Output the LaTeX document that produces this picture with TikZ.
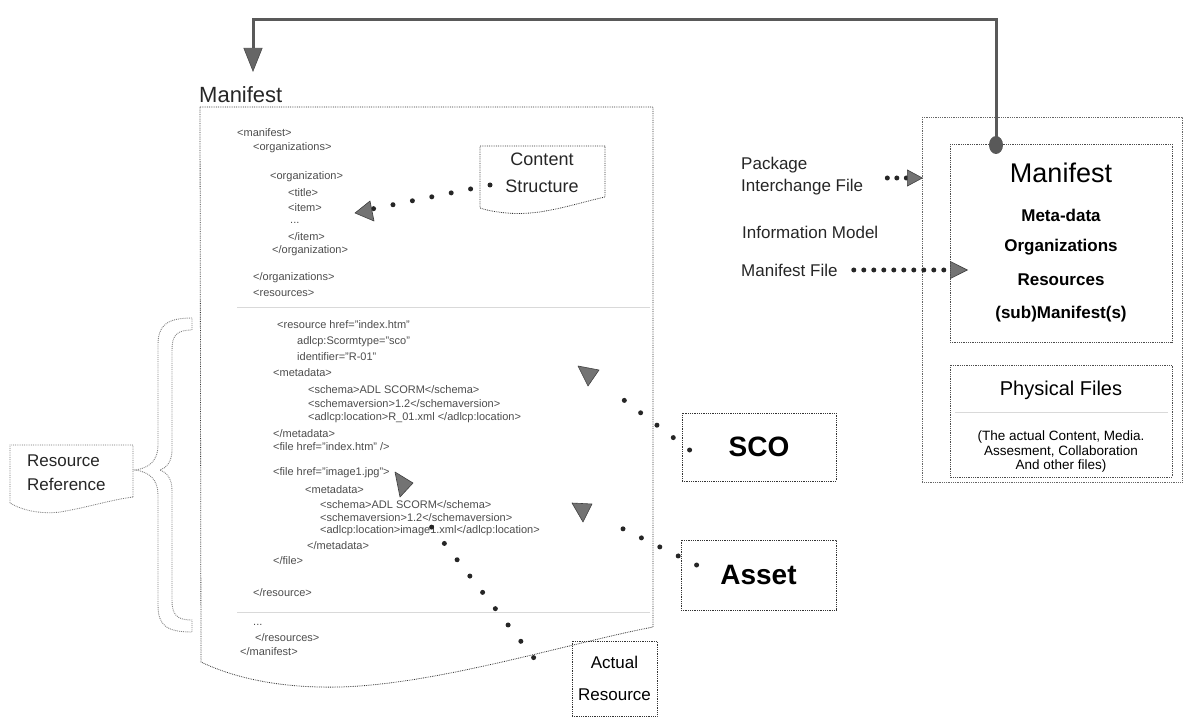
\documentclass[tikz,border=0pt]{standalone}
\usepackage{fontspec}
\setmainfont{Liberation Sans}
\usetikzlibrary{arrows.meta,calc}
\tikzset{
 code/.style={anchor=west, inner sep=0pt, font=\fontsize{11}{12}\selectfont, text=black!70},
 lbl/.style={inner sep=0pt, font=\fontsize{17}{20}\selectfont, text=black!85},
 bdr/.style={line width=0.8pt, densely dotted, draw=black!80},
 dotcon/.style={line width=5pt, line cap=round, dash pattern=on 0pt off 20.5pt, draw=black!85},
 tipfill/.style={fill=black!55, draw=black!75, line width=0.6pt, line join=round},
 brc/.style={line width=0.9pt, densely dotted, draw=black!50},
 faint/.style={line width=0.6pt, draw=black!15},
}
\begin{document}
\begin{tikzpicture}[x=1pt,y=-1pt]
\useasboundingbox (0,0) rectangle (1191,727);

% ---------- left manifest document ----------
\node[lbl, anchor=west, font=\fontsize{22}{24}\selectfont] (mtitle) at (199,95) {Manifest};
\draw[bdr] (200,107) -- (653,107) -- (653,627)
  .. controls (560,645) and (420,690) .. (320,687)
  .. controls (270,686) and (230,676) .. (201,662) -- cycle;
\draw[faint] (237,307) -- (650,307);
\draw[faint] (237,612) -- (650,612);

\node[code] (c1) at (237,133) {<manifest>};
\node[code] (c2) at (253,148) {<organizations>};
\node[code] (c3) at (270,177) {<organization>};
\node[code] (c4) at (288,193) {<title>};
\node[code] (c5) at (288,208) {<item>};
\node[code] (c6) at (290,223) {...};
\node[code] (c7) at (288,237) {</item>};
\node[code] (c8) at (272,251) {</organization>};
\node[code] (c9) at (253,278) {</organizations>};
\node[code] (c10) at (253,293) {<resources>};
\node[code] (c11) at (277,325) {<resource href="index.htm"};
\node[code] (c12) at (297,342) {adlcp:Scormtype="sco"};
\node[code] (c13) at (297,357) {identifier="R-01"};
\node[code] (c14) at (273,373) {<metadata>};
\node[code] (c15) at (308,390) {<schema>ADL SCORM</schema>};
\node[code] (c16) at (308,404) {<schemaversion>1.2</schemaversion>};
\node[code] (c17) at (308,418) {<adlcp:location>R\_01.xml </adlcp:location>};
\node[code] (c18) at (273,434) {</metadata>};
\node[code] (c19) at (273,447) {<file href="index.htm" />};
\node[code] (c20) at (273,473) {<file href="image1.jpg">};
\node[code] (c21) at (305,490) {<metadata>};
\node[code] (c22) at (320,505) {<schema>ADL SCORM</schema>};
\node[code] (c23) at (320,518) {<schemaversion>1.2</schemaversion>};
\node[code] (c24) at (320,531) {<adlcp:location>image1.xml</adlcp:location>};
\node[code] (c25) at (307,546) {</metadata>};
\node[code] (c26) at (273,561) {</file>};
\node[code] (c27) at (253,593) {</resource>};
\node[code] (c28) at (253,625) {...};
\node[code] (c29) at (255,638) {</resources>};
\node[code] (c30) at (240,652) {</manifest>};

% ---------- content structure ----------
\draw[bdr] (480,146) -- (605,146) -- (605,197)
  .. controls (570,205) and (540,216) .. (507,213)
  .. controls (495,212) and (486,210) .. (480,208) -- cycle;
\node[lbl, align=center, font=\fontsize{18}{27}\selectfont] (cs) at (542,173) {Content\\Structure};
\coordinate (csS) at (490,185);
\coordinate (csT) at (372,209);
\draw[dotcon, dash pattern=on 0pt off 19.8pt] (csS) -- (csT);
\filldraw[tipfill] (355,213) -- (370,201) -- (374,221) -- cycle;

% ---------- resource reference + brace ----------
\draw[bdr, draw=black!55] (133,497) -- (133,445) -- (10,445) -- (10,503)
  .. controls (25,512) and (45,514) .. (60,512)
  .. controls (85,508) and (110,500) .. (133,497);
\node[lbl, anchor=west, align=left, font=\fontsize{17}{24}\selectfont] (rr) at (27,473) {Resource\\Reference};
\draw[brc] (192,318) .. controls (166,318) and (158,326) .. (158,345) -- (158,445)
  .. controls (158,460) and (150,468) .. (135,470)
  .. controls (150,472) and (158,480) .. (158,495) -- (158,605)
  .. controls (158,625) and (166,632) .. (192,632) -- (192,620)
  .. controls (176,620) and (172,614) .. (172,600) -- (172,490)
  .. controls (172,478) and (166,472) .. (160,470)
  .. controls (166,468) and (172,462) .. (172,450) -- (172,350)
  .. controls (172,336) and (176,330) .. (192,330) -- cycle;

% ---------- SCO / Asset / Actual Resource ----------
\node[bdr, draw, minimum width=154pt, minimum height=68pt, font=\fontsize{28}{30}\selectfont\bfseries] (sco) at (759,447) {SCO};
\node[bdr, draw, minimum width=155pt, minimum height=70pt, font=\fontsize{28}{30}\selectfont\bfseries] (asset) at (758.5,575) {Asset};
\node[bdr, draw, minimum width=85pt, minimum height=75pt, align=center, font=\fontsize{17}{32}\selectfont] (actual) at (614.5,678.5) {Actual\\Resource};

\coordinate (scoS) at ($(sco.west)+(8,3)$);
\coordinate (scoT) at (608,388);
\draw[dotcon] (scoS) -- (scoT);
\filldraw[tipfill] (578,366) -- (599,370) -- (588,386) -- cycle;

\coordinate (asS) at ($(asset.west)+(16,-10)$);
\coordinate (asT) at (605,520);
\draw[dotcon] (asS) -- (asT);
\filldraw[tipfill] (572,503) -- (592,504) -- (583,522) -- cycle;

\coordinate (arS) at ($(actual.north west)+(-38,17)$);
\coordinate (arT) at (419,511);
\draw[dotcon, dash pattern=on 0pt off 20.7pt] (arS) -- (arT);
\filldraw[tipfill] (395,472) -- (413,483) -- (400,497) -- cycle;

% ---------- right panel ----------
\draw[bdr, draw=black!60] (922,117) rectangle (1182,482);
\draw[bdr, draw=black!70] (950,144) rectangle (1172,342);
\coordinate (rman) at (996,145);
\node[inner sep=0pt, font=\fontsize{27}{30}\selectfont] (rmt) at (1061,173) {Manifest};
\node[inner sep=0pt, font=\fontsize{17}{20}\selectfont\bfseries] (md) at (1061,215) {Meta-data};
\node[inner sep=0pt, font=\fontsize{17}{20}\selectfont\bfseries] (org) at (1061,247) {Organizations};
\node[inner sep=0pt, font=\fontsize{17}{20}\selectfont\bfseries] (res) at (1061,280) {Resources};
\node[inner sep=0pt, font=\fontsize{17}{20}\selectfont\bfseries] (sub) at (1061,314) {(sub)Manifest(s)};

\draw[bdr, draw=black!70] (950,365) rectangle (1172,477);
\draw[faint] (955,412) -- (1168,412);
\node[inner sep=0pt, font=\fontsize{20}{22}\selectfont] (pf) at (1061,390) {Physical Files};
\node[inner sep=0pt, align=center, font=\fontsize{13.5}{14.5}\selectfont] (pfd) at (1061,452) {(The actual Content, Media.\\Assesment, Collaboration\\And other files)};

\node[lbl, anchor=west, align=left, font=\fontsize{17}{22}\selectfont] (pkg) at (741,176) {Package\\Interchange File};
\node[lbl, anchor=west] (im) at (742,232) {Information Model};
\node[lbl, anchor=west] (mf) at (741,270) {Manifest File};

\coordinate (pkgT) at (923,178);
\draw[dotcon, dash pattern=on 0pt off 9.5pt, -{Triangle[length=16pt,width=17pt,line width=0.6pt,fill=black!55,color=black!75]}] ($(pkg.east)+(24,2)$) -- (pkgT);
\coordinate (mfT) at (968,270);
\draw[dotcon, dash pattern=on 0pt off 10pt, -{Triangle[length=18pt,width=18pt,line width=0.6pt,fill=black!55,color=black!75]}] ($(mf.east)+(16,0)$) -- (mfT);

% ---------- top connector ----------
\coordinate (topE) at (253,72);
\draw[line width=3pt, draw=black!65, -{Triangle[length=24pt,width=19pt,fill=black!60,color=black!70,line width=0.6pt]}] (rman) -- ++(0,-125) -| (topE);
\fill[black!65] (rman) ellipse (7pt and 9pt);
\end{tikzpicture}
\end{document}
